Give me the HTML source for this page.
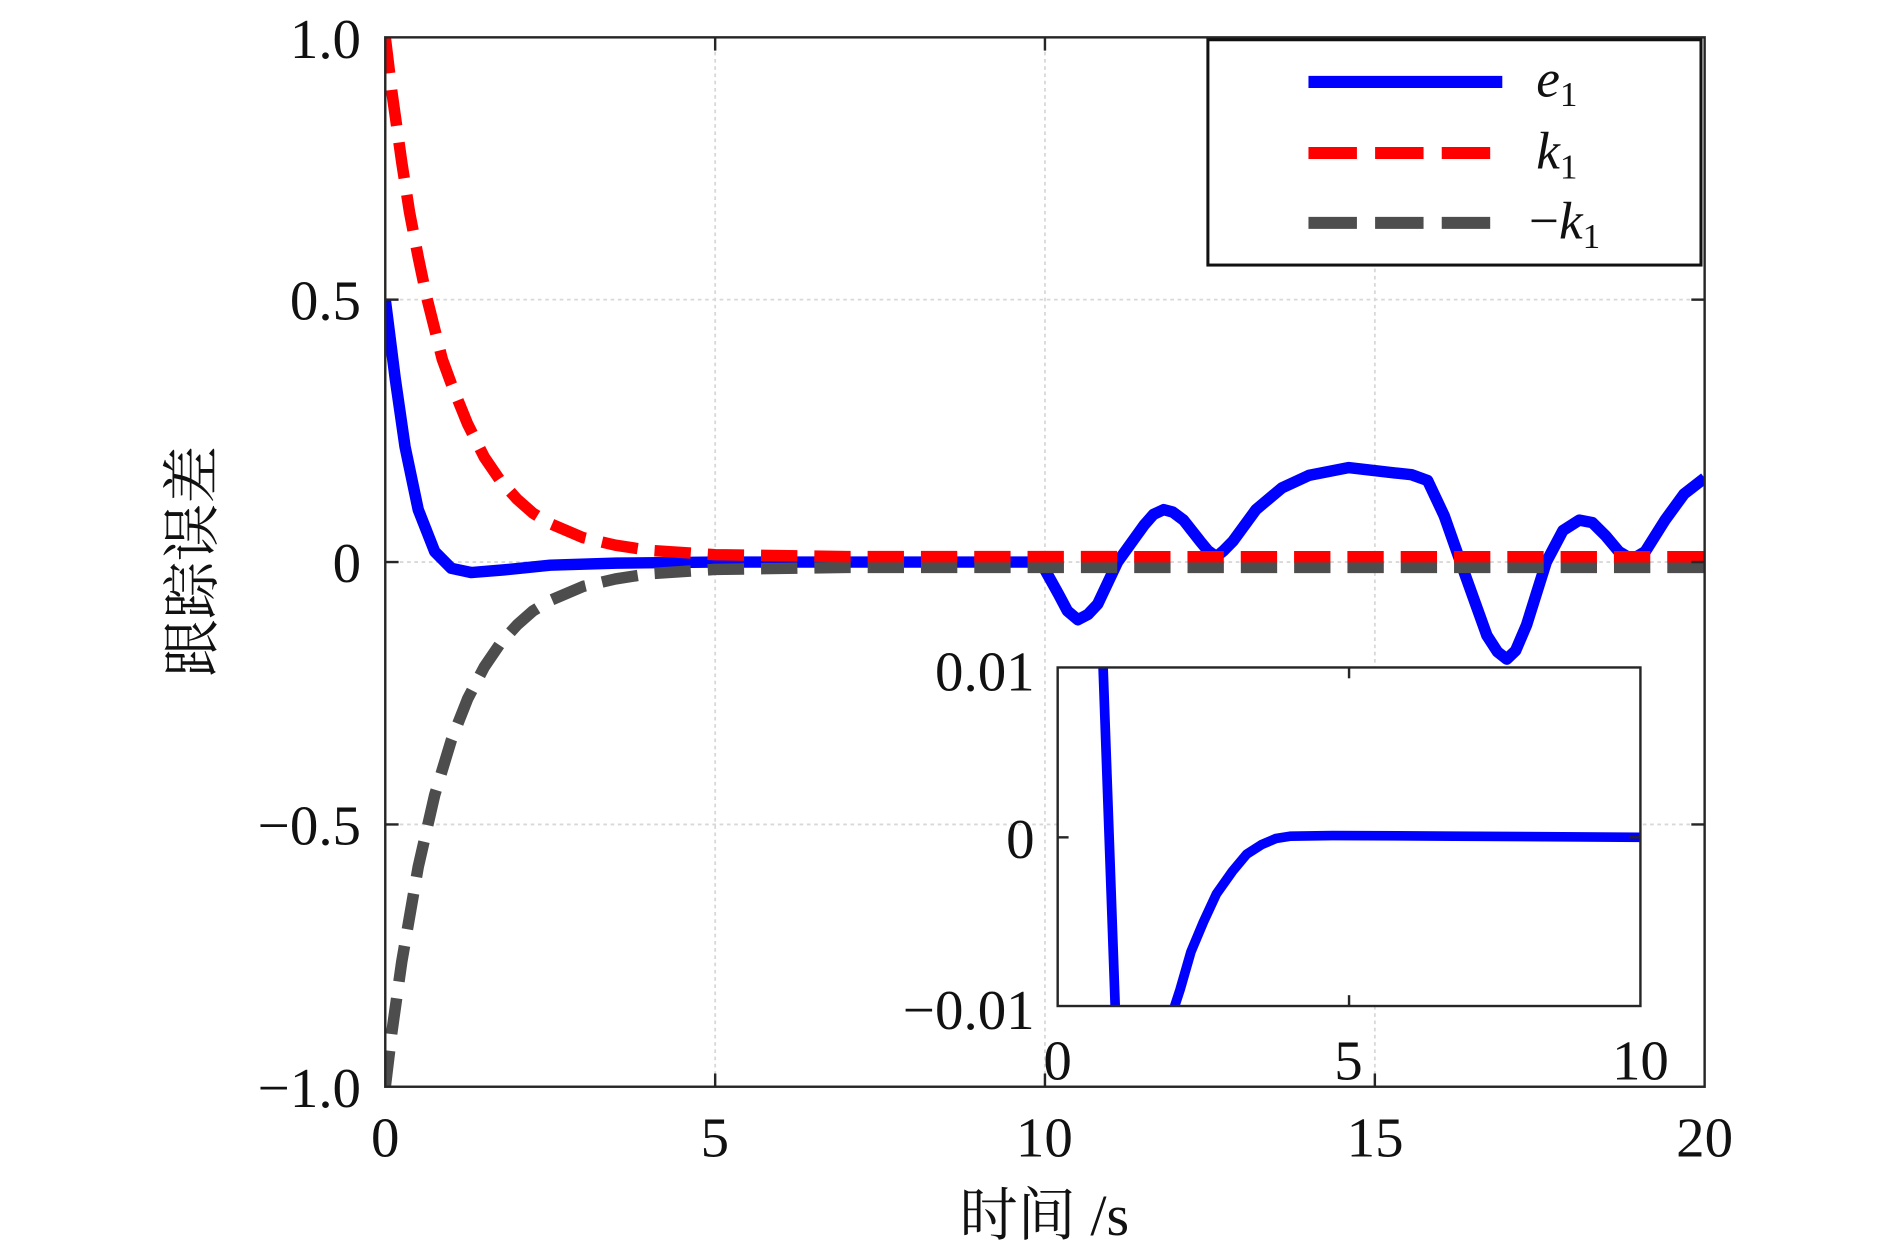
<!DOCTYPE html>
<html><head><meta charset="utf-8"><style>html,body{margin:0;padding:0;background:#fff}svg{display:block}</style></head>
<body>
<svg width="1890" height="1253" viewBox="0 0 1560 1040" preserveAspectRatio="none" xmlns="http://www.w3.org/2000/svg" font-family="'Liberation Serif','Noto Serif CJK SC',serif">
<defs>
<clipPath id="cm"><rect x="318" y="31" width="1089" height="871"/></clipPath>
<clipPath id="ci"><rect x="873" y="554" width="481" height="281"/></clipPath>
</defs>
<rect width="1560" height="1040" fill="#fff"/>
<g stroke="#d8d8d8" stroke-width="1.5" stroke-dasharray="3 3">
<line x1="590.3" y1="31" x2="590.3" y2="902"/><line x1="862.5" y1="31" x2="862.5" y2="902"/><line x1="1134.8" y1="31" x2="1134.8" y2="902"/>
<line x1="318" y1="248.7" x2="1407" y2="248.7"/><line x1="318" y1="466.5" x2="1407" y2="466.5"/><line x1="318" y1="684.3" x2="1407" y2="684.3"/>
</g>
<g clip-path="url(#cm)" fill="none" stroke-width="9.5" stroke-linejoin="round">
<polyline stroke="#0000ff" points="318,248.8 326.2,314.1 334.3,370.7 345.2,423 358.8,457.8 372.5,471.7 388.8,475.2 416,473 454.1,469.1 508.6,467.4 590.3,466.5 851.6,466.5 862,472 873.4,492.6 881,507 889.7,514.4 898,510 906.1,501.3 922.4,466.5 944.2,436 952,427 960.5,423 968,425 976.9,431.7 990.5,449.1 997,457 1004,462.1 1010,457 1017.7,449.1 1036.7,423 1058,405 1080.3,394.6 1113,388.1 1151.1,392.5 1165,394 1178.3,398.8 1192,428 1205.5,466.5 1227.3,527.5 1236,541 1243.7,547.1 1251,540 1260,518.8 1276.3,466.5 1290,440.4 1303.6,431.7 1314.4,433.8 1325.3,444.7 1336.2,457.8 1347.1,464.3 1358,457.8 1374.3,431.7 1390,410 1407,396.8"/>
<polyline stroke="#4d4d4d" stroke-dasharray="30 14" points="318,902 323.4,857.1 331.6,798.3 345.2,719.5 358.8,659.8 372.5,614.4 386,580 399.7,553.6 413,534 426.9,518.6 440,507 454.1,498.4 481.4,486.7 508,480.5 535.8,476.2 590.3,472.6 699,471 1407,470.9"/>
<polyline stroke="#ff0000" stroke-dasharray="30 14" points="318,31 323.4,75.9 331.6,134.7 338,176 345.2,213.5 352,246 358.8,273.2 365,298 372.5,318.6 386,352 399.7,379.4 413,399 426.9,414.4 440,426 454.1,434.6 481.4,446.3 508,452.5 535.8,456.8 590.3,460.4 699,462 1407,462.1"/>
</g>
<rect x="318" y="31" width="1089" height="871" fill="none" stroke="#262626" stroke-width="2"/>
<g stroke="#262626" stroke-width="2">
<line x1="590.3" y1="902" x2="590.3" y2="891"/><line x1="862.5" y1="902" x2="862.5" y2="891"/><line x1="1134.8" y1="902" x2="1134.8" y2="891"/>
<line x1="590.3" y1="31" x2="590.3" y2="42"/><line x1="862.5" y1="31" x2="862.5" y2="42"/><line x1="1134.8" y1="31" x2="1134.8" y2="42"/>
<line x1="318" y1="248.7" x2="329" y2="248.7"/><line x1="318" y1="466.5" x2="329" y2="466.5"/><line x1="318" y1="684.3" x2="329" y2="684.3"/>
<line x1="1407" y1="248.7" x2="1396" y2="248.7"/><line x1="1407" y1="466.5" x2="1396" y2="466.5"/><line x1="1407" y1="684.3" x2="1396" y2="684.3"/>
</g>
<g font-size="47" fill="#111" text-anchor="end">
<text x="298" y="48">1.0</text><text x="298" y="265">0.5</text><text x="298" y="483">0</text><text x="298" y="701">−0.5</text><text x="298" y="919">−1.0</text>
</g>
<g font-size="47" fill="#111" text-anchor="middle">
<text x="318" y="960">0</text><text x="590" y="960">5</text><text x="862" y="960">10</text><text x="1135" y="960">15</text><text x="1407" y="960">20</text>
<text x="862" y="1025" font-size="48">时间 /s</text>
<text transform="translate(175,466) rotate(-90)" font-size="48">跟踪误差</text>
</g>
<rect x="997" y="33" width="407" height="187" fill="#fff" stroke="#111" stroke-width="2.5"/>
<line x1="1080" y1="68" x2="1240" y2="68" stroke="#0000ff" stroke-width="10"/>
<line x1="1080" y1="127" x2="1240" y2="127" stroke="#ff0000" stroke-width="10" stroke-dasharray="40 15"/>
<line x1="1080" y1="185" x2="1240" y2="185" stroke="#4d4d4d" stroke-width="10" stroke-dasharray="40 15"/>
<g font-size="44" fill="#111" font-style="italic">
<text x="1268" y="80">e<tspan font-style="normal" font-size="29" dy="8">1</tspan></text>
<text x="1268" y="140">k<tspan font-style="normal" font-size="29" dy="8">1</tspan></text>
<text x="1262" y="198"><tspan font-style="normal">−</tspan>k<tspan font-style="normal" font-size="29" dy="8">1</tspan></text>
</g>
<rect x="873" y="554" width="481" height="281" fill="#fff"/>
<g clip-path="url(#ci)" fill="none" stroke="#0000ff" stroke-width="8" stroke-linejoin="round">
<polyline points="910,540 921,850"/>
<polyline points="964.4,863.6 968,840 974,821.5 983,790 993.3,765.3 1004,742 1017.3,723.1 1029,709 1041.4,701 1053,696 1065.4,694 1100,693.5 1200,694 1354,695"/>
</g>
<rect x="873" y="554" width="481" height="281" fill="none" stroke="#262626" stroke-width="2"/>
<g stroke="#262626" stroke-width="2"><line x1="1113.5" y1="835" x2="1113.5" y2="826"/><line x1="1113.5" y1="554" x2="1113.5" y2="563"/><line x1="873" y1="695" x2="882" y2="695"/><line x1="1354" y1="695" x2="1345" y2="695"/></g>
<g font-size="47" fill="#111" text-anchor="end">
<text x="854" y="573">0.01</text><text x="854" y="712">0</text><text x="854" y="854">−0.01</text>
</g>
<g font-size="47" fill="#111" text-anchor="middle">
<text x="873" y="896">0</text><text x="1113" y="896">5</text><text x="1354" y="896">10</text>
</g>
</svg>
</body></html>
